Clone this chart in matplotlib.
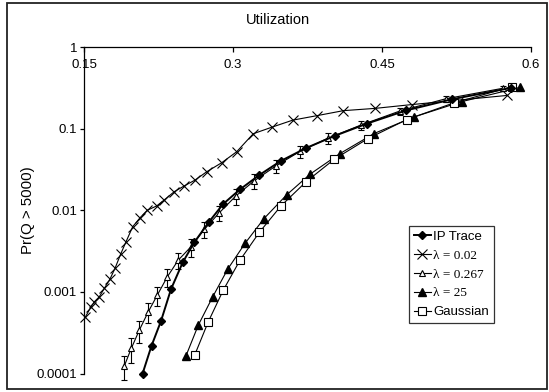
import matplotlib
matplotlib.use("Agg")
import matplotlib.pyplot as plt
from matplotlib.patches import Rectangle
from matplotlib.lines import Line2D
import numpy as np

plt.rcParams['font.family'] = ['Liberation Sans', 'DejaVu Sans']

# ---- data ----
ip_u = [0.209, 0.218, 0.2275, 0.2376, 0.2494, 0.261, 0.2755, 0.290, 0.307, 0.3265,
        0.348, 0.3735, 0.4027, 0.4346, 0.4742, 0.5205, 0.580]
ip_p = [1.0e-4, 2.19e-4, 4.39e-4, 1.08e-3, 2.30e-3, 4.04e-3, 7.11e-3, 0.0119, 0.0180,
        0.0270, 0.0401, 0.0578, 0.0818, 0.115, 0.167, 0.229, 0.316]

l002_u = [0.1515, 0.1567, 0.1604, 0.1654, 0.1704, 0.1762, 0.1812, 0.1869, 0.1923, 0.1990,
          0.2064, 0.2137, 0.2232, 0.2305, 0.2409, 0.2507, 0.2617, 0.2735, 0.2886, 0.3037,
          0.3204, 0.3390, 0.3601, 0.3843, 0.4111, 0.4430, 0.4799, 0.5759]
l002_p = [4.95e-4, 6.46e-4, 7.56e-4, 8.71e-4, 1.10e-3, 1.44e-3, 1.94e-3, 2.90e-3, 4.11e-3,
          6.28e-3, 8.09e-3, 0.0100, 0.0113, 0.0133, 0.0169, 0.0198, 0.0234, 0.0296, 0.0382,
          0.0521, 0.0866, 0.104, 0.127, 0.144, 0.166, 0.177, 0.197, 0.255]

l0267_u = [0.1906, 0.1976, 0.2057, 0.2147, 0.2238, 0.2339, 0.2449, 0.2577, 0.2711, 0.2862,
           0.3027, 0.3213, 0.3433, 0.3675, 0.3953, 0.4289, 0.4678, 0.5141, 0.5716]
l0267_p = [1.24e-4, 2.03e-4, 3.40e-4, 5.70e-4, 9.14e-4, 1.53e-3, 2.45e-3, 3.57e-3, 5.83e-3,
           9.31e-3, 0.0149, 0.0229, 0.0350, 0.0527, 0.0760, 0.1107, 0.164, 0.232, 0.312]
l0267_relerr = [0.33, 0.33, 0.30, 0.27, 0.27, 0.25, 0.22, 0.25, 0.22, 0.20,
                0.22, 0.20, 0.19, 0.17, 0.15, 0.12, 0.10, 0.08, 0.06]

l25_u = [0.2527, 0.2651, 0.2796, 0.2947, 0.3121, 0.3312, 0.3539, 0.3778, 0.4077, 0.4420,
         0.4822, 0.5302, 0.5894]
l25_p = [1.65e-4, 3.92e-4, 8.71e-4, 1.90e-3, 3.93e-3, 7.91e-3, 0.0154, 0.0278, 0.0495,
         0.0871, 0.139, 0.214, 0.321]

gauss_u = [0.2614, 0.2751, 0.2902, 0.3071, 0.3265, 0.3483, 0.3735, 0.4020, 0.4356, 0.4749,
           0.5225, 0.5806]
gauss_p = [1.68e-4, 4.30e-4, 1.05e-3, 2.45e-3, 5.36e-3, 0.0113, 0.0223, 0.0422, 0.0752,
           0.129, 0.207, 0.326]

x_ticks = [0.15, 0.3, 0.45, 0.6]
x_ticklabels = ['0.15', '0.3', '0.45', '0.6']
y_ticks = [1e-4, 1e-3, 1e-2, 1e-1, 1]
y_ticklabels = ['0.0001', '0.001', '0.01', '0.1', '1']
legend_labels = ['IP Trace', 'λ = 0.02', 'λ = 0.267', 'λ = 25', 'Gaussian']

# ---- figure ----
W, H = 549, 392
fig = plt.figure(figsize=(W / 100, H / 100), dpi=100)
ax = fig.add_axes([84 / W, 1 - 373.5 / H, (531 - 84) / W, (373.5 - 47) / H])

ax.set_yscale('log')
ax.set_xlim(0.15, 0.6)
ax.set_ylim(1e-4, 1)

lw_thin = 0.8
ip_style = dict(color='black', lw=1.4, marker='D', ms=4.2, mfc='black', mec='black')
x_style = dict(color='black', lw=lw_thin, marker='x', ms=6.5, mew=0.8)
t_style = dict(color='black', lw=lw_thin, marker='^', ms=5, mfc='white', mec='black', mew=0.8)
l25_style = dict(color='black', lw=lw_thin, marker='^', ms=5.2, mfc='black', mec='black')
g_style = dict(color='black', lw=lw_thin, marker='s', ms=5.5, mfc='white', mec='black', mew=0.8)

ax.plot(ip_u, ip_p, clip_on=False, zorder=5, **ip_style)
ax.plot(l002_u, l002_p, clip_on=False, zorder=3, **x_style)
err = np.array(l0267_p) * np.array(l0267_relerr)
eb = ax.errorbar(l0267_u, l0267_p, yerr=err, elinewidth=0.8, capsize=2.2,
                 capthick=0.8, ecolor='black', zorder=4, **t_style)
eb_arts = [eb.lines[0]] + list(eb.lines[1]) + list(eb.lines[2])
for art in eb_arts:
    art.set_clip_on(False)
ax.plot(l25_u, l25_p, clip_on=False, zorder=3, **l25_style)
ax.plot(gauss_u, gauss_p, clip_on=False, zorder=3, **g_style)

# axes styling
for s in ['bottom', 'right']:
    ax.spines[s].set_visible(False)
for s in ['top', 'left']:
    ax.spines[s].set_linewidth(0.9)
ax.xaxis.tick_top()
ax.set_xticks(x_ticks)
ax.set_xticklabels(x_ticklabels)
ax.tick_params(axis='x', direction='in', length=3.5, width=0.9, pad=-17.5,
               labelsize=9.5, top=True, bottom=False, labeltop=True, labelbottom=False)
ax.set_yticks(y_ticks)
ax.set_yticklabels(y_ticklabels)
ax.yaxis.set_minor_locator(matplotlib.ticker.NullLocator())
ax.tick_params(axis='y', direction='out', length=3, width=0.9, pad=2, labelsize=9.5)

ax.set_ylabel('Pr(Q > 5000)', fontsize=10.8, labelpad=1)
fig.text(278 / W, 1 - 20 / H, 'Utilization', ha='center', va='center', fontsize=10.5)

handles = [Line2D([], [], **ip_style), Line2D([], [], **x_style), Line2D([], [], **t_style),
           Line2D([], [], **l25_style), Line2D([], [], **g_style)]
leg = ax.legend(handles=handles, labels=legend_labels,
                loc='upper left', bbox_to_anchor=((409 - 84) / 447, 1 - (226 - 47) / 326.5),
                borderaxespad=0, fancybox=False, frameon=True, edgecolor='black',
                fontsize=9.5, handlelength=1.3, handletextpad=0.2, labelspacing=0.5,
                borderpad=0.35)
leg.get_frame().set_linewidth(0.9)
for t in leg.get_texts()[1:4]:
    t.set_fontfamily(['Liberation Serif', 'DejaVu Serif'])

# figure frame
fig.patches.append(Rectangle((7 / W, 3 / H), 540 / W, 386 / H, transform=fig.transFigure,
                             fill=False, edgecolor='#222222', linewidth=1.3))

fig.savefig('out.png', dpi=100)
